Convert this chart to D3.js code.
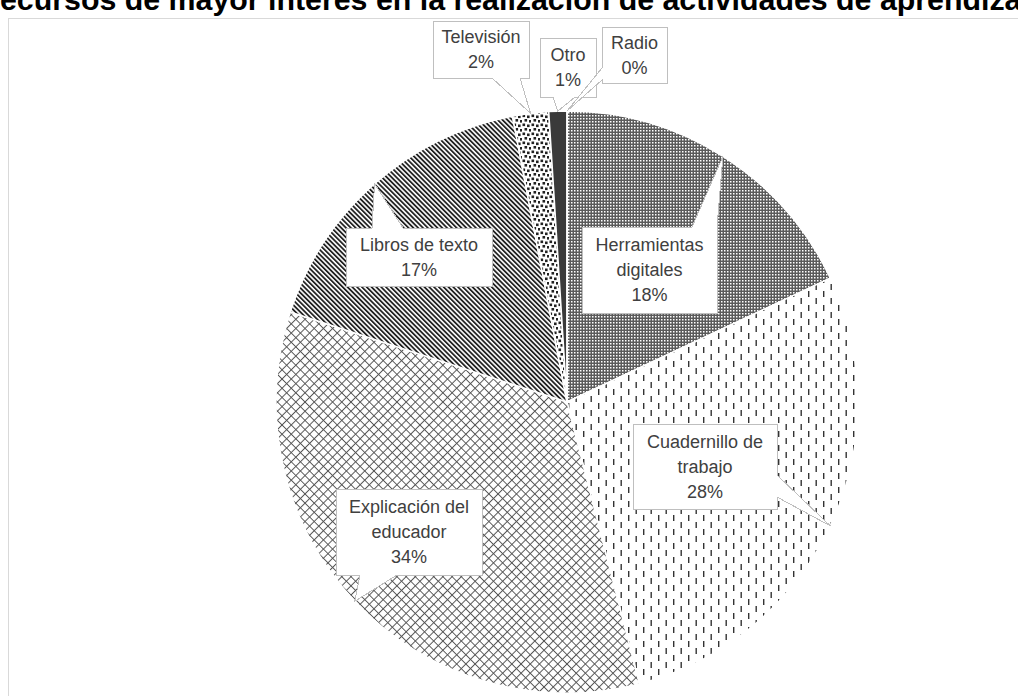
<!DOCTYPE html>
<html>
<head>
<meta charset="utf-8">
<script src="https://cdn.jsdelivr.net/npm/d3@7"></script>
<style>
  html, body { margin: 0; padding: 0; background: #fff; overflow: hidden; }
  svg { display: block; }
</style>
</head>
<body>
<div id="chart"></div>
<script>
// ---------------- data ----------------
const title = "Recursos de mayor interés en la realización de actividades de aprendizaje";
const categories = ["Herramientas digitales", "Cuadernillo de trabajo", "Explicación del educador",
                    "Libros de texto", "Televisión", "Otro", "Radio"];
const values = [18, 28, 34, 17, 2, 1, 0];
const labelLines = [["Herramientas", "digitales"], ["Cuadernillo de", "trabajo"],
                    ["Explicación del", "educador"], ["Libros de texto"], ["Televisión"], ["Otro"], ["Radio"]];

// ---------------- layout ----------------
const W = 1018, H = 696;
const cx = 567, cy = 402, R = 291;
// callout boxes: x, y, w, h, edge where the pointer leaves, pointer base range
const callouts = [
  { x: 582, y: 227, w: 135, h: 86, edge: "top",    a1: 692, a2: 717 },
  { x: 633, y: 424, w: 144, h: 85, edge: "right",  a1: 475, a2: 497 },
  { x: 336, y: 489, w: 146, h: 86, edge: "bottom", a1: 360, a2: 397 },
  { x: 346, y: 228, w: 146, h: 58, edge: "top",    a1: 372, a2: 403 },
  { x: 433, y: 21,  w: 96,  h: 57, edge: "bottom", a1: 492, a2: 520 },
  { x: 540, y: 38,  w: 56,  h: 59, edge: "bottom", a1: 553, a2: 575 },
  { x: 602, y: 27,  w: 65,  h: 56, edge: "left",   a1: 68,  a2: 80 }
];
const patternIds = ["pHerr", "pCuad", "pExpl", "pLibros", "pTele", "pOtro", "pRadio"];

const svg = d3.select("#chart").append("svg").attr("width", W).attr("height", H);

// ---------------- patterns ----------------
const defs = svg.append("defs");
{
  const p = defs.append("pattern").attr("id", "pHerr").attr("patternUnits", "userSpaceOnUse")
    .attr("width", 3).attr("height", 3);
  p.append("rect").attr("width", 3).attr("height", 3).attr("fill", "#5a5a5a");
  p.append("rect").attr("x", 1).attr("y", 1).attr("width", 1.5).attr("height", 1.5).attr("fill", "#fff");
}
{
  const p = defs.append("pattern").attr("id", "pCuad").attr("patternUnits", "userSpaceOnUse")
    .attr("width", 15).attr("height", 14);
  p.append("rect").attr("width", 15).attr("height", 14).attr("fill", "#fff");
  p.append("rect").attr("x", 1).attr("y", 1).attr("width", 1.4).attr("height", 6).attr("fill", "#333");
  p.append("rect").attr("x", 8.5).attr("y", 8).attr("width", 1.4).attr("height", 6).attr("fill", "#333");
}
{
  const p = defs.append("pattern").attr("id", "pExpl").attr("patternUnits", "userSpaceOnUse")
    .attr("width", 6.5).attr("height", 6.5).attr("patternTransform", "rotate(45)");
  p.append("rect").attr("width", 6.5).attr("height", 6.5).attr("fill", "#fff");
  p.append("path").attr("d", "M3.25,0V6.5M0,3.25H6.5").attr("stroke", "#555").attr("stroke-width", 1).attr("fill", "none");
}
{
  const p = defs.append("pattern").attr("id", "pLibros").attr("patternUnits", "userSpaceOnUse")
    .attr("width", 3.4).attr("height", 3.4).attr("patternTransform", "rotate(-45)");
  p.append("rect").attr("width", 3.4).attr("height", 3.4).attr("fill", "#fff");
  p.append("rect").attr("width", 1.8).attr("height", 3.4).attr("fill", "#222");
}
{
  const p = defs.append("pattern").attr("id", "pTele").attr("patternUnits", "userSpaceOnUse")
    .attr("width", 9).attr("height", 9);
  p.append("rect").attr("width", 9).attr("height", 9).attr("fill", "#fff");
  [[0.5, 0.5], [5, 1.5], [2.5, 5], [7, 6]].forEach(([x, y]) =>
    p.append("rect").attr("x", x).attr("y", y).attr("width", 2.6).attr("height", 2.6).attr("fill", "#222"));
}
{
  const p = defs.append("pattern").attr("id", "pOtro").attr("patternUnits", "userSpaceOnUse")
    .attr("width", 4).attr("height", 4);
  p.append("rect").attr("width", 4).attr("height", 4).attr("fill", "#3a3a3a");
}
{
  const p = defs.append("pattern").attr("id", "pRadio").attr("patternUnits", "userSpaceOnUse")
    .attr("width", 4).attr("height", 4);
  p.append("rect").attr("width", 4).attr("height", 4).attr("fill", "#888");
}

// ---------------- frame ----------------
svg.append("rect").attr("x", 8.5).attr("y", 18.5).attr("width", 1200).attr("height", 900)
  .attr("fill", "#fff").attr("stroke", "#d9d9d9").attr("stroke-width", 1);

// ---------------- title ----------------
{
  const ff = "'Liberation Sans', Arial, sans-serif";
  const tmp = svg.append("text").attr("font-family", ff).attr("font-weight", "bold").attr("font-size", 100)
    .text(title.slice(1, title.length - 2));
  const wSub = tmp.node().getComputedTextLength();
  const fs = 100 * 1022 / wSub;
  tmp.attr("font-size", fs).text(title.slice(0, 1));
  const wR = tmp.node().getComputedTextLength();
  tmp.remove();
  svg.append("text").attr("font-family", ff).attr("font-weight", "bold").attr("font-size", fs)
    .attr("x", -wR).attr("y", 10).attr("fill", "#000").text(title);
}

// ---------------- pie ----------------
const pie = d3.pie().sort(null).value(d => d).startAngle(0).endAngle(2 * Math.PI);
const arcs = pie(values);
const arc = d3.arc().innerRadius(0).outerRadius(R);
const tipArc = d3.arc().innerRadius(R).outerRadius(R);

const g = svg.append("g").attr("transform", `translate(${cx},${cy})`);
g.selectAll("path.slice").data(arcs).join("path")
  .attr("class", "slice")
  .attr("d", arc)
  .attr("fill", (d, i) => `url(#${patternIds[i]})`)
  .attr("stroke", "#fff").attr("stroke-width", 1.5).attr("stroke-linejoin", "round");

// ---------------- callouts ----------------
const total = d3.sum(values);
const fmt = d3.format(".0%");

function calloutPath(b, tip) {
  const { x, y, w, h, edge, a1, a2 } = b;
  let pts;
  if (edge === "top") pts = [[x, y], [a1, y], tip, [a2, y], [x + w, y], [x + w, y + h], [x, y + h]];
  else if (edge === "right") pts = [[x, y], [x + w, y], [x + w, a1], tip, [x + w, a2], [x + w, y + h], [x, y + h]];
  else if (edge === "bottom") pts = [[x, y], [x + w, y], [x + w, y + h], [a2, y + h], tip, [a1, y + h], [x, y + h]];
  else pts = [[x, y], [x + w, y], [x + w, y + h], [x, y + h], [x, a2], tip, [x, a1]];
  return "M" + pts.map(p => p.join(",")).join("L") + "Z";
}

const lg = svg.append("g");
arcs.forEach((d, i) => {
  const b = callouts[i];
  const c = tipArc.centroid(d);
  const tip = [cx + c[0], cy + c[1]];
  lg.append("path").attr("d", calloutPath(b, tip))
    .attr("fill", "#fff").attr("stroke", "#bfbfbf").attr("stroke-width", 1).attr("shape-rendering", "crispEdges");
  const lines = labelLines[i].concat([fmt(d.data / total)]);
  const lh = 25, fs = 18;
  const bx = b.x + b.w / 2, by = b.y + b.h / 2;
  const y0 = by - (lines.length - 1) * lh / 2 + fs * 0.35;
  const t = lg.append("text").attr("text-anchor", "middle")
    .attr("font-family", "'Liberation Sans', Arial, sans-serif").attr("font-size", fs).attr("fill", "#404040");
  lines.forEach((s, k) => t.append("tspan").attr("x", bx).attr("y", y0 + k * lh).text(s));
});
</script>
</body>
</html>
